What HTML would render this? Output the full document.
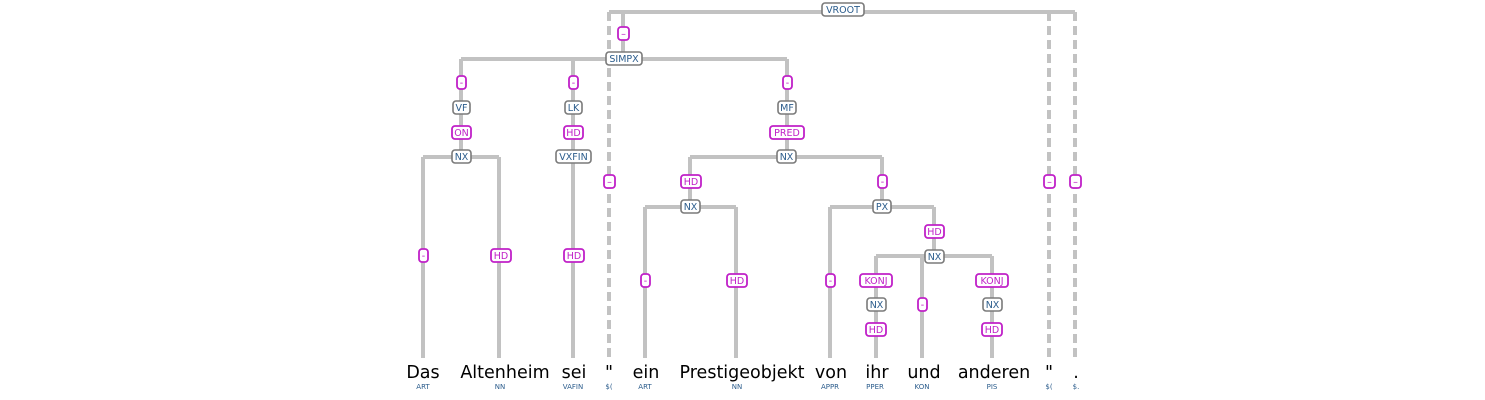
<!DOCTYPE html>
<html><head><meta charset="utf-8"><style>
html,body{margin:0;padding:0;background:#fff;}
svg{display:block;font-family:"DejaVu Sans","Liberation Sans",sans-serif;}
.l{stroke:#c2c2c2;stroke-width:4;fill:none;}
.d{stroke:#c2c2c2;stroke-width:4;fill:none;stroke-dasharray:9,5;}
.n rect{fill:#fff;stroke:#7a7a7a;stroke-width:1.6;}
.n text{fill:#2b5c8c;font-size:9.5px;text-anchor:middle;}
.e rect{fill:#fff;stroke:#c020c8;stroke-width:1.8;}
.e text{fill:#c020c8;font-size:9.5px;text-anchor:middle;}
.w{font-size:17.5px;fill:#000;text-anchor:middle;}
.t{font-size:7px;fill:#2b5c8c;text-anchor:middle;}
</style></head><body>
<svg width="1485" height="400" viewBox="0 0 1485 400">
<path class="l" d="M609 12 H1075"/>
<path class="d" d="M609 12 V360 M1049 12 V360 M1075 12 V360"/>
<path class="l" d="M623 12 V59"/>
<path class="l" d="M461 59 H787 M461 59 V157 M573 59 V358 M787 59 V157"/>
<path class="l" d="M423 157 H499 M423 157 V358 M499 157 V358"/>
<path class="l" d="M690 157 H882 M690 157 V207 M882 157 V207"/>
<path class="l" d="M645 207 H736 M645 207 V358 M736 207 V358"/>
<path class="l" d="M830 207 H934 M830 207 V358 M934 207 V256"/>
<path class="l" d="M876 256 H992 M876 256 V358 M922 256 V358 M992 256 V358"/>
<g class="n">
<rect x="822" y="3" width="42" height="13" rx="3"/><text x="843" y="13">VROOT</text>
<rect x="606" y="52" width="36" height="13" rx="3"/><text x="624" y="62">SIMPX</text>
<rect x="453" y="101" width="17" height="13" rx="3"/><text x="461.5" y="111">VF</text>
<rect x="565" y="101" width="17" height="13" rx="3"/><text x="573.5" y="111">LK</text>
<rect x="778" y="101" width="18" height="13" rx="3"/><text x="787" y="111">MF</text>
<rect x="452" y="150" width="19" height="13" rx="3"/><text x="461.5" y="160">NX</text>
<rect x="556" y="150" width="35" height="13" rx="3"/><text x="573.5" y="160">VXFIN</text>
<rect x="777" y="150" width="19" height="13" rx="3"/><text x="786.5" y="160">NX</text>
<rect x="681" y="200" width="19" height="13" rx="3"/><text x="690.5" y="210">NX</text>
<rect x="873" y="200" width="18" height="13" rx="3"/><text x="882" y="210">PX</text>
<rect x="925" y="250" width="19" height="13" rx="3"/><text x="934.5" y="260">NX</text>
<rect x="867" y="298" width="19" height="13" rx="3"/><text x="876.5" y="308">NX</text>
<rect x="983" y="298" width="19" height="13" rx="3"/><text x="992.5" y="308">NX</text>
</g>
<g class="e">
<rect x="618" y="27" width="11" height="13" rx="3"/><text x="623.5" y="37">–</text>
<rect x="457" y="76" width="9" height="13" rx="3"/><text x="461.5" y="86">-</text>
<rect x="569" y="76" width="9" height="13" rx="3"/><text x="573.5" y="86">-</text>
<rect x="783" y="76" width="9" height="13" rx="3"/><text x="787.5" y="86">-</text>
<rect x="452" y="126" width="19" height="13" rx="3"/><text x="461.5" y="136">ON</text>
<rect x="564" y="126" width="19" height="13" rx="3"/><text x="573.5" y="136">HD</text>
<rect x="770" y="126" width="34" height="13" rx="3"/><text x="787" y="136">PRED</text>
<rect x="604" y="175" width="11" height="13" rx="3"/><text x="609.5" y="185">–</text>
<rect x="681" y="175" width="20" height="13" rx="3"/><text x="691" y="185">HD</text>
<rect x="878" y="175" width="9" height="13" rx="3"/><text x="882.5" y="185">-</text>
<rect x="1044" y="175" width="11" height="13" rx="3"/><text x="1049.5" y="185">–</text>
<rect x="1070" y="175" width="11" height="13" rx="3"/><text x="1075.5" y="185">–</text>
<rect x="925" y="225" width="19" height="13" rx="3"/><text x="934.5" y="235">HD</text>
<rect x="419" y="249" width="9" height="13" rx="3"/><text x="423.5" y="259">-</text>
<rect x="491" y="249" width="20" height="13" rx="3"/><text x="501" y="259">HD</text>
<rect x="564" y="249" width="20" height="13" rx="3"/><text x="574" y="259">HD</text>
<rect x="641" y="274" width="9" height="13" rx="3"/><text x="645.5" y="284">-</text>
<rect x="727" y="274" width="20" height="13" rx="3"/><text x="737" y="284">HD</text>
<rect x="826" y="274" width="9" height="13" rx="3"/><text x="830.5" y="284">-</text>
<rect x="860" y="274" width="32" height="13" rx="3"/><text x="876" y="284">KONJ</text>
<rect x="918" y="298" width="9" height="13" rx="3"/><text x="922.5" y="308">-</text>
<rect x="976" y="274" width="32" height="13" rx="3"/><text x="992" y="284">KONJ</text>
<rect x="866" y="323" width="20" height="13" rx="3"/><text x="876" y="333">HD</text>
<rect x="982" y="323" width="20" height="13" rx="3"/><text x="992" y="333">HD</text>
</g>
<text class="w" x="423" y="378">Das</text><text class="t" x="423" y="389">ART</text>
<text class="w" x="505" y="378">Altenheim</text><text class="t" x="500" y="389">NN</text>
<text class="w" x="574" y="378">sei</text><text class="t" x="573" y="389">VAFIN</text>
<text class="w" x="609" y="378">"</text><text class="t" x="609" y="389">$(</text>
<text class="w" x="646" y="378">ein</text><text class="t" x="645" y="389">ART</text>
<text class="w" x="742" y="378">Prestigeobjekt</text><text class="t" x="737" y="389">NN</text>
<text class="w" x="831" y="378">von</text><text class="t" x="830" y="389">APPR</text>
<text class="w" x="877" y="378">ihr</text><text class="t" x="875" y="389">PPER</text>
<text class="w" x="924" y="378">und</text><text class="t" x="922" y="389">KON</text>
<text class="w" x="994" y="378">anderen</text><text class="t" x="992" y="389">PIS</text>
<text class="w" x="1049" y="378">"</text><text class="t" x="1049" y="389">$(</text>
<text class="w" x="1076" y="378">.</text><text class="t" x="1076" y="389">$.</text>
</svg>
</body></html>
